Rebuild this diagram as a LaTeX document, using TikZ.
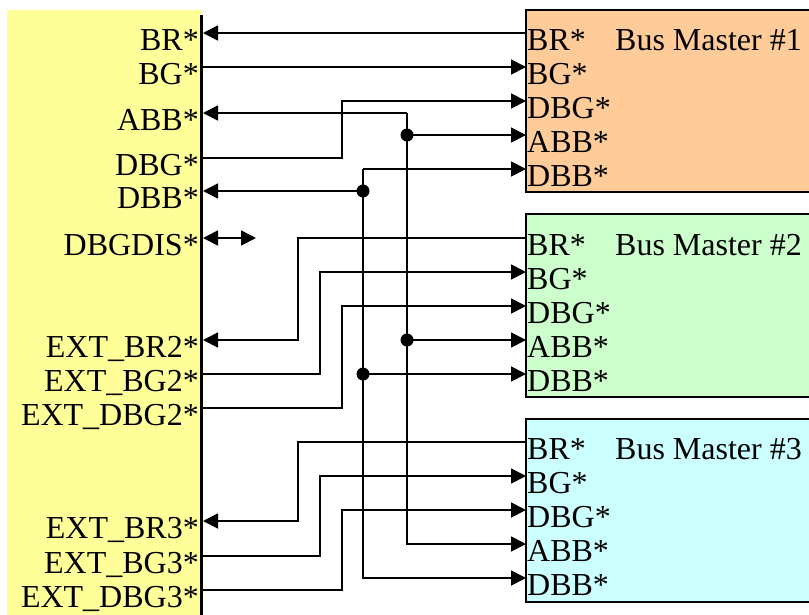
\documentclass[tikz,border=0pt]{standalone}
\usepackage{fontspec}
\setmainfont{Liberation Serif}
\usetikzlibrary{arrows.meta}
\definecolor{ylw}{HTML}{FFFF99}
\definecolor{bmone}{HTML}{FFCC99}
\definecolor{bmtwo}{HTML}{CCFFCC}
\definecolor{bmthree}{HTML}{CCFFFF}
\begin{document}
\begin{tikzpicture}[x=1pt,y=-1pt,
  wire/.style={line width=1.8pt},
  tip/.style={-{Triangle[length=15pt,width=15pt]}},
  dtip/.style={{Triangle[length=15pt,width=15pt]}-{Triangle[length=15pt,width=15pt]}},
  jdot/.style={circle,fill=black,inner sep=0pt,minimum size=13pt},
  lbl/.style={font=\fontsize{32}{32}\selectfont,inner sep=0pt},
  boxst/.style={draw=black,line width=1.6pt}]
\useasboundingbox (0,0) rectangle (809,614);
% left block
\fill[ylw] (7,10) rectangle (201,620);
\draw[line width=3.4pt] (201.5,15) -- (201.5,620);
% bus master boxes
\draw[boxst,fill=bmone] (526,10) rectangle (820,192);
\draw[boxst,fill=bmtwo] (526,214) rectangle (820,397);
\draw[boxst,fill=bmthree] (526,419) rectangle (820,602);
% box pins and labels
\foreach \b/\y in {1/33,2/238,3/442}{
  \foreach \p [count=\k from 0] in {BR,BG,DBG,ABB,DBB}{
    \coordinate (B\b-\p) at (526,\y+34*\k);
    \node[lbl,anchor=base west] (tB\b-\p) at (527,\y+34*\k+17) {\p*};
  }
  \node[lbl,anchor=base west] (title\b) at (615,\y+17) {Bus Master \#\b};
}
% left pins and labels
\foreach \n/\t/\y in {BR/BR/33,BG/BG/67,ABB/ABB/113,DBG/DBG/158,DBB/DBB/191,
  DIS/DBGDIS/238,EBRtwo/EXT\_BR2/340,EBGtwo/EXT\_BG2/374,EDBGtwo/EXT\_DBG2/408,
  EBRthree/EXT\_BR3/521,EBGthree/EXT\_BG3/556,EDBGthree/EXT\_DBG3/590}{
  \coordinate (L-\n) at (203,\y);
  \node[lbl,anchor=base east] (tL-\n) at (199,\y+17) {\t*};
}
% BR / BG of master 1
\draw[wire,tip] (B1-BR) -- (L-BR);
\draw[wire,tip] (L-BG) -- (B1-BG);
% DBG to master 1
\coordinate (g1a) at (342,158); \coordinate (g1b) at (342,101);
\draw[wire,tip] (L-DBG) -- (g1a) -- (g1b) -- (B1-DBG);
% ABB bus
\coordinate (abT) at (407,113); \coordinate (abB) at (407,544);
\coordinate (ab1) at (407,135); \coordinate (ab2) at (407,340);
\draw[wire,tip] (abT) -- (L-ABB);
\draw[wire,tip] (abT) -- (abB) -- (B3-ABB);
\draw[wire,tip] (ab1) -- (B1-ABB);
\draw[wire,tip] (ab2) -- (B2-ABB);
% DBB bus
\coordinate (dbT) at (363,169); \coordinate (dbB) at (363,578);
\coordinate (db0) at (363,191); \coordinate (db2) at (363,374);
\draw[wire,tip] (db0) -- (L-DBB);
\draw[wire,tip] (dbT) -- (B1-DBB);
\draw[wire,tip] (dbT) -- (dbB) -- (B3-DBB);
\draw[wire,tip] (db2) -- (B2-DBB);
% DBGDIS
\coordinate (disE) at (256,238);
\draw[wire,dtip] (L-DIS) -- (disE);
% master 2
\coordinate (r2a) at (298,238); \coordinate (r2b) at (298,340);
\draw[wire,tip] (B2-BR) -- (r2a) -- (r2b) -- (L-EBRtwo);
\coordinate (s2a) at (320,374); \coordinate (s2b) at (320,272);
\draw[wire,tip] (L-EBGtwo) -- (s2a) -- (s2b) -- (B2-BG);
\coordinate (u2a) at (342,408); \coordinate (u2b) at (342,306);
\draw[wire,tip] (L-EDBGtwo) -- (u2a) -- (u2b) -- (B2-DBG);
% master 3
\coordinate (r3a) at (298,442); \coordinate (r3b) at (298,521);
\draw[wire,tip] (B3-BR) -- (r3a) -- (r3b) -- (L-EBRthree);
\coordinate (s3a) at (320,556); \coordinate (s3b) at (320,476);
\draw[wire,tip] (L-EBGthree) -- (s3a) -- (s3b) -- (B3-BG);
\coordinate (u3a) at (342,590); \coordinate (u3b) at (342,510);
\draw[wire,tip] (L-EDBGthree) -- (u3a) -- (u3b) -- (B3-DBG);
% junction dots
\node[jdot] (jab1) at (ab1) {};
\node[jdot] (jab2) at (ab2) {};
\node[jdot] (jdb0) at (db0) {};
\node[jdot] (jdb2) at (db2) {};
\end{tikzpicture}
\end{document}
